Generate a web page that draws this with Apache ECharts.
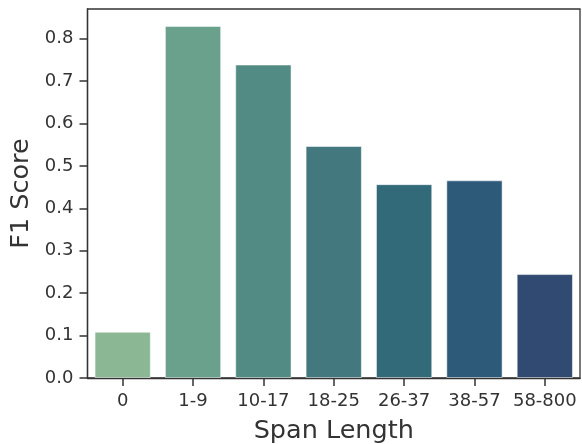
<!DOCTYPE html>
<html><head><meta charset="utf-8">
<script src="https://cdn.jsdelivr.net/npm/echarts@6/dist/echarts.min.js"></script>
<style>html,body{margin:0;padding:0;background:#fff}#c{width:582px;height:444px}</style>
</head><body><div id="c"></div>
<script>
const categories = ['0','1-9','10-17','18-25','26-37','38-57','58-800'];
const f1Scores = [0.109, 0.830, 0.739, 0.547, 0.457, 0.466, 0.245];
const barColors = ['#8bb795','#69a18c','#528b84','#43797e','#336a7a','#2c5a78','#314a71'];
const yTicks = [0.0,0.1,0.2,0.3,0.4,0.5,0.6,0.7,0.8];

const chart = echarts.init(document.getElementById('c'), null, {renderer:'canvas'});
const font = 'DejaVu Sans';
chart.setOption({
  animation:false,
  grid:{left:87.5,right:2,top:9,bottom:66,containLabel:false,outerBoundsMode:'none',show:true,borderColor:'#333',borderWidth:1.3,backgroundColor:'transparent'},
  xAxis:{type:'category',data:categories,
    name:'Span Length',nameLocation:'middle',nameGap:40,
    nameTextStyle:{fontFamily:font,fontSize:25.5,color:'#333'},
    axisLine:{lineStyle:{color:'#333',width:1.3}},
    axisTick:{show:true,inside:false,alignWithLabel:true,interval:0,length:8,lineStyle:{color:'#333',width:1.5}},
    axisLabel:{interval:0,fontFamily:font,fontSize:18,color:'#333',margin:14}},
  yAxis:{type:'value',min:0,max:0.87,
    name:'F1 Score',nameLocation:'middle',nameGap:51,
    nameTextStyle:{fontFamily:font,fontSize:25.5,color:'#333'},
    splitLine:{show:false},
    axisLine:{show:true,lineStyle:{color:'#333',width:1.3}},
    axisTick:{show:true,inside:false,length:8,customValues:yTicks,lineStyle:{color:'#333',width:1.5}},
    axisLabel:{fontFamily:font,fontSize:18,color:'#333',margin:14,customValues:yTicks,
      formatter:v=>v.toFixed(1)}},
  series:[{type:'bar',barCategoryGap:'20%',
    data:f1Scores.map((v,i)=>({value:v,itemStyle:{color:barColors[i],borderColor:'rgba(255,255,255,0.5)',borderWidth:1}}))}]
});
</script></body></html>
